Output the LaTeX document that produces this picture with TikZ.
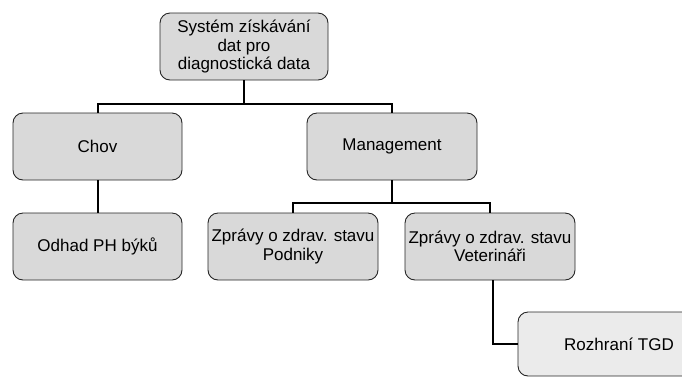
\documentclass[tikz,border=0pt]{standalone}
\usepackage{fontspec}
\setmainfont{Liberation Sans}
\begin{document}
\begin{tikzpicture}[x=1pt,y=-1pt,
  box/.style={draw=black!85, line width=0.9pt, rounded corners=10pt, fill=boxgray,
    minimum width=170pt, minimum height=67pt, inner sep=0pt, align=center,
    font=\fontsize{17}{18.5}\selectfont},
  conn/.style={line width=2pt, black}]
\definecolor{boxgray}{HTML}{D9D9D9}
\definecolor{lightgray2}{HTML}{EBEBEB}
\useasboundingbox (0,0) rectangle (682,376);
\clip (0,0) rectangle (682,376);
\node[box, minimum width=168pt] (top) at (244,46.5) {Systém získávání\\dat pro\\diagnostická data};
\node[box, minimum width=169pt] (chov) at (97.5,146.5) {Chov};
\node[box] (mgmt) at (392,146.5) {Management};
\node[box, minimum width=169pt] (odhad) at (97.5,246.5) {Odhad PH býků};
\node[box] (podn) at (293,246.5) {Zprávy o zdrav. stavu\\Podniky};
\node[box] (vet) at (490,246.5) {Zprávy o zdrav. stavu\\Veterináři};
\node[box, fill=lightgray2, minimum width=202pt, minimum height=64pt] (tgd) at (619,344) {Rozhraní TGD};
\coordinate (h1) at (244,104);
\coordinate (h2) at (392,203);
\draw[conn] (top.south) -- (h1) -| (chov.north);
\draw[conn] (h1) -| (mgmt.north);
\draw[conn] (chov.south) -- (odhad.north);
\draw[conn] (mgmt.south) -- (h2) -| (podn.north);
\draw[conn] (h2) -| (vet.north);
\draw[conn] ([xshift=3pt]vet.south) |- (tgd.west);
\end{tikzpicture}
\end{document}
